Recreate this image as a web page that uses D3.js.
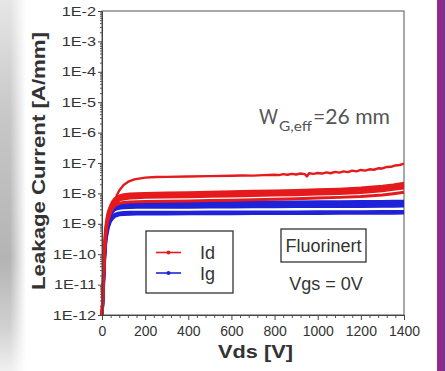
<!DOCTYPE html>
<meta charset="utf-8">
<style>
body { margin: 0; background: #fff; }
svg { display: block; }
.tick text { font-family: "Liberation Sans", Arial, sans-serif; fill: #333; }
.lbl { font-family: "Liberation Sans", Arial, sans-serif; fill: #333; }
</style>
<body>
<svg width="446" height="371"></svg>
</body>
<script src="https://d3js.org/d3.v7.min.js"></script>
<script>

// shared voltage grid for the smoother curves
var vds = [0, 4, 8, 12, 16, 20, 25, 30, 40, 50, 60, 80, 100, 130, 160, 200, 300, 400, 500, 600, 700, 800, 900, 1000, 1100, 1200, 1300, 1350, 1400];

// top (noisy) Id curve has its own grid
var idTopV = [0, 3, 6, 10, 15, 20, 30, 40, 50, 60, 70, 80, 100, 125, 150, 200, 250, 300, 400, 500, 600, 650, 700, 750,
  800, 820, 840, 860, 880, 900, 920, 940, 950, 960, 980, 1000, 1020, 1040, 1060, 1080, 1100, 1120,
  1140, 1160, 1180, 1200, 1220, 1240, 1260, 1280, 1300, 1320, 1340, 1360, 1380, 1400];
var idTop = [1e-12, 5e-12, 2e-11, 9e-11, 3e-10, 7e-10, 1.4e-9, 2.2e-9, 3.6e-9, 6e-9, 9e-9, 1.25e-8,
  1.9e-8, 2.5e-8, 2.9e-8, 3.3e-8, 3.45e-8, 3.5e-8, 3.6e-8, 3.7e-8, 3.8e-8, 3.9e-8, 3.85e-8, 4.0e-8,
  4.1e-8, 4.0e-8, 4.3e-8, 4.1e-8, 4.4e-8, 4.2e-8, 4.5e-8, 4.3e-8, 3.6e-8, 4.6e-8, 4.4e-8, 4.7e-8,
  4.5e-8, 4.9e-8, 4.6e-8, 5.1e-8, 4.8e-8, 5.3e-8, 5.0e-8, 5.6e-8, 5.3e-8, 5.9e-8, 5.6e-8, 6.2e-8,
  6.0e-8, 6.7e-8, 6.6e-8, 7.4e-8, 7.5e-8, 8.3e-8, 8.6e-8, 9.5e-8];

// lower Id curves (on vds grid)
var id2 = [1e-12, 6e-12, 4e-11, 2e-10, 6e-10, 1.1e-9, 1.8e-9, 2.6e-9, 4e-9, 5.5e-9, 6.8e-9, 8.2e-9, 9e-9, 9.5e-9, 9.8e-9,
  1.0e-8, 1.03e-8, 1.06e-8, 1.1e-8, 1.13e-8, 1.17e-8, 1.21e-8, 1.25e-8, 1.31e-8, 1.38e-8, 1.5e-8, 1.72e-8, 1.9e-8, 2.15e-8];
var id3 = [1e-12, 5e-12, 3e-11, 1.6e-10, 5e-10, 9e-10, 1.5e-9, 2.2e-9, 3.4e-9, 4.6e-9, 5.7e-9, 7e-9, 7.8e-9, 8.2e-9, 8.4e-9,
  8.6e-9, 8.9e-9, 9.2e-9, 9.4e-9, 9.7e-9, 1.0e-8, 1.03e-8, 1.07e-8, 1.12e-8, 1.18e-8, 1.28e-8, 1.45e-8, 1.62e-8, 1.8e-8];
var id4 = [1e-12, 4e-12, 2.5e-11, 1.3e-10, 4e-10, 7.5e-10, 1.3e-9, 1.9e-9, 2.9e-9, 3.9e-9, 4.8e-9, 6e-9, 6.6e-9, 7e-9, 7.2e-9,
  7.4e-9, 7.6e-9, 7.8e-9, 8e-9, 8.2e-9, 8.5e-9, 8.8e-9, 9.1e-9, 9.5e-9, 1.0e-8, 1.08e-8, 1.22e-8, 1.36e-8, 1.5e-8];
var id5 = [1e-12, 3e-12, 2e-11, 1e-10, 3.2e-10, 6e-10, 1.1e-9, 1.6e-9, 2.5e-9, 3.3e-9, 4e-9, 4.7e-9, 5e-9, 5.2e-9, 5.3e-9,
  5.4e-9, 5.5e-9, 5.6e-9, 5.8e-9, 6e-9, 6.2e-9, 6.4e-9, 6.7e-9, 7e-9, 7.4e-9, 7.9e-9, 8.8e-9, 9.8e-9, 1.1e-8];

// Ig curves (on vds grid)
var ig1 = [1e-12, 4e-12, 2e-11, 1e-10, 3e-10, 6e-10, 1e-9, 1.6e-9, 2.6e-9, 3.5e-9, 4.1e-9, 4.6e-9, 4.8e-9, 4.9e-9, 5e-9,
  5e-9, 5.05e-9, 5.1e-9, 5.1e-9, 5.15e-9, 5.2e-9, 5.25e-9, 5.3e-9, 5.35e-9, 5.4e-9, 5.45e-9, 5.5e-9, 5.55e-9, 5.6e-9];
var ig2 = [1e-12, 3.5e-12, 1.8e-11, 9e-11, 2.8e-10, 5.5e-10, 9e-10, 1.4e-9, 2.3e-9, 3.1e-9, 3.6e-9, 4.0e-9, 4.2e-9, 4.3e-9, 4.35e-9,
  4.4e-9, 4.45e-9, 4.5e-9, 4.5e-9, 4.55e-9, 4.6e-9, 4.6e-9, 4.65e-9, 4.7e-9, 4.75e-9, 4.8e-9, 4.85e-9, 4.9e-9, 4.95e-9];
var ig3 = [1e-12, 3e-12, 1.6e-11, 8e-11, 2.5e-10, 5e-10, 8e-10, 1.3e-9, 2.1e-9, 2.8e-9, 3.2e-9, 3.6e-9, 3.75e-9, 3.85e-9, 3.9e-9,
  3.9e-9, 3.95e-9, 4e-9, 4e-9, 4.05e-9, 4.05e-9, 4.1e-9, 4.1e-9, 4.15e-9, 4.2e-9, 4.2e-9, 4.25e-9, 4.3e-9, 4.3e-9];
var ig4 = [1e-12, 2.5e-12, 1.4e-11, 7e-11, 2.2e-10, 4.5e-10, 7e-10, 1.1e-9, 1.8e-9, 2.5e-9, 2.9e-9, 3.2e-9, 3.35e-9, 3.4e-9, 3.45e-9,
  3.45e-9, 3.5e-9, 3.5e-9, 3.55e-9, 3.55e-9, 3.6e-9, 3.6e-9, 3.65e-9, 3.65e-9, 3.7e-9, 3.7e-9, 3.75e-9, 3.75e-9, 3.8e-9];
var ig5 = [1e-12, 2.2e-12, 1.2e-11, 6e-11, 1.9e-10, 3.8e-10, 6e-10, 9e-10, 1.4e-9, 1.8e-9, 2.1e-9, 2.3e-9, 2.35e-9, 2.4e-9, 2.4e-9,
  2.4e-9, 2.42e-9, 2.43e-9, 2.44e-9, 2.45e-9, 2.46e-9, 2.47e-9, 2.48e-9, 2.5e-9, 2.5e-9, 2.52e-9, 2.54e-9, 2.55e-9, 2.56e-9];
var ig6 = [1e-12, 2e-12, 1e-11, 5e-11, 1.6e-10, 3.2e-10, 5e-10, 7.5e-10, 1.2e-9, 1.5e-9, 1.75e-9, 1.95e-9, 2.02e-9, 2.06e-9, 2.08e-9,
  2.1e-9, 2.1e-9, 2.12e-9, 2.13e-9, 2.14e-9, 2.15e-9, 2.16e-9, 2.17e-9, 2.18e-9, 2.19e-9, 2.2e-9, 2.21e-9, 2.22e-9, 2.23e-9];

var yTicks = [1e-12, 1e-11, 1e-10, 1e-9, 1e-8, 1e-7, 1e-6, 1e-5, 1e-4, 1e-3, 1e-2];
var yTickLabels = ["1E-12", "1E-11", "1E-10", "1E-9", "1E-8", "1E-7", "1E-6", "1E-5", "1E-4", "1E-3", "1E-2"];
var xTicks = [0, 200, 400, 600, 800, 1000, 1200, 1400];
var legendNames = ["Id", "Ig"];

var red = "#e41a1c", blue = "#1f22d8";

var svg = d3.select("svg");

// backdrop: grey band on the left, purple strip on the right
var defs = svg.append("defs");
var gv = defs.append("linearGradient").attr("id", "gv").attr("x1", 0).attr("y1", 0).attr("x2", 0).attr("y2", 1);
[["0%", "#e6e6e6"], ["30%", "#c8c8c8"], ["70%", "#b4b4b4"], ["88%", "#d0d0d0"], ["100%", "#f0f0f0"]].forEach(function(s) {
  gv.append("stop").attr("offset", s[0]).attr("stop-color", s[1]);
});
var gh = defs.append("linearGradient").attr("id", "gh");
gh.append("stop").attr("offset", "0%").attr("stop-color", "#fff").attr("stop-opacity", 0);
gh.append("stop").attr("offset", "100%").attr("stop-color", "#fff").attr("stop-opacity", 1);
svg.append("rect").attr("x", 0).attr("y", 0).attr("width", 26).attr("height", 371).attr("fill", "url(#gv)");
svg.append("rect").attr("x", 10).attr("y", 0).attr("width", 16).attr("height", 371).attr("fill", "url(#gh)");
svg.append("rect").attr("x", 437).attr("y", 0).attr("width", 8).attr("height", 371).attr("fill", "#8e2b8f");
svg.append("rect").attr("x", 445).attr("y", 0).attr("width", 1).attr("height", 371).attr("fill", "#dcc8dc");

var x = d3.scaleLinear().domain([0, 1400]).range([102, 404]);
var y = d3.scaleLog().domain([1e-12, 1e-2]).range([315, 11]);

// frame
svg.append("rect").attr("x", 102).attr("y", 11).attr("width", 302).attr("height", 304)
  .attr("fill", "#fff").attr("stroke", "#555").attr("stroke-width", 1);

var line = d3.line().x(function(d) { return x(d[0]); }).y(function(d) { return y(d[1]); });
function pairs(vs, is) { return vs.map(function(v, i) { return [v, is[i]]; }); }

var plot = svg.append("g");
[ig6, ig5, ig4, ig3, ig2, ig1].forEach(function(s) {
  plot.append("path").datum(pairs(vds, s)).attr("d", line)
    .attr("fill", "none").attr("stroke", blue).attr("stroke-width", 2.8).attr("stroke-linejoin", "round");
});
[id5, id4, id3, id2].forEach(function(s) {
  plot.append("path").datum(pairs(vds, s)).attr("d", line)
    .attr("fill", "none").attr("stroke", red).attr("stroke-width", 3).attr("stroke-linejoin", "round");
});
plot.append("path").datum(pairs(idTopV, idTop)).attr("d", line)
  .attr("fill", "none").attr("stroke", red).attr("stroke-width", 2.4).attr("stroke-linejoin", "round");

// y axis
var minorY = [];
yTicks.slice(0, -1).forEach(function(t) { for (var k = 2; k < 10; k++) minorY.push(t * k); });
svg.append("g").attr("transform", "translate(102,0)")
  .call(d3.axisLeft(y).tickValues(minorY).tickSize(2).tickFormat(""))
  .call(function(g) { g.select(".domain").remove(); g.selectAll("line").attr("stroke", "#555"); });
var gy = svg.append("g").attr("transform", "translate(102,0)")
  .call(d3.axisLeft(y).tickValues(yTicks).tickSize(4).tickSizeOuter(0)
    .tickFormat(function(d, i) { return yTickLabels[i]; }));
gy.select(".domain").attr("stroke", "#444");
gy.selectAll("line").attr("stroke", "#444");
gy.selectAll("text").attr("x", 0).attr("font-size", 12.5)
  .attr("transform", "translate(-6,0) scale(1.3,1)");

// x axis
var minorX = d3.range(0, 1401, 40).filter(function(v) { return v % 200 !== 0; });
svg.append("g").attr("transform", "translate(0,315)")
  .call(d3.axisBottom(x).tickValues(minorX).tickSize(3).tickFormat(""))
  .call(function(g) { g.select(".domain").remove(); g.selectAll("line").attr("stroke", "#555"); });
var gx = svg.append("g").attr("transform", "translate(0,315)")
  .call(d3.axisBottom(x).tickValues(xTicks).tickSize(5).tickSizeOuter(0).tickFormat(d3.format("d")));
gx.select(".domain").attr("stroke", "#444");
gx.selectAll("line").attr("stroke", "#444");
gx.selectAll("text").attr("font-size", 14).attr("y", 11);

// axis titles
svg.append("text").attr("class", "lbl")
  .attr("transform", "translate(45,161) rotate(-90)")
  .attr("text-anchor", "middle").attr("font-size", 18).attr("font-weight", "bold").attr("fill", "#222")
  .attr("textLength", 258).attr("lengthAdjust", "spacingAndGlyphs")
  .text("Leakage Current [A/mm]");
svg.append("text").attr("class", "lbl")
  .attr("x", 255.5).attr("y", 358)
  .attr("text-anchor", "middle").attr("font-size", 18).attr("font-weight", "bold").attr("fill", "#222")
  .attr("textLength", 75).attr("lengthAdjust", "spacingAndGlyphs")
  .text("Vds [V]");

// W_G,eff annotation
var ann = svg.append("g").attr("fill", "#555").attr("font-family", "Lato, 'Open Sans', sans-serif");
ann.append("text").attr("x", 259).attr("y", 124).attr("font-size", 22)
  .attr("textLength", 19).attr("lengthAdjust", "spacingAndGlyphs").text("W");
ann.append("text").attr("x", 279).attr("y", 131).attr("font-size", 14)
  .attr("textLength", 33).attr("lengthAdjust", "spacingAndGlyphs").text("G,eff");
ann.append("text").attr("x", 313).attr("y", 124).attr("font-size", 22)
  .attr("textLength", 77).attr("lengthAdjust", "spacingAndGlyphs").text("=26 mm");

// legend
var leg = svg.append("g");
leg.append("rect").attr("x", 146).attr("y", 231).attr("width", 87).attr("height", 62)
  .attr("fill", "#fff").attr("stroke", "#333").attr("stroke-width", 1.3);
[red, blue].forEach(function(c, i) {
  var ly = 252.5 + i * 20.5;
  leg.append("line").attr("x1", 156).attr("x2", 181).attr("y1", ly).attr("y2", ly)
    .attr("stroke", c).attr("stroke-width", 1.6);
  leg.append("circle").attr("cx", 168.5).attr("cy", ly).attr("r", 2).attr("fill", c);
  leg.append("text").attr("class", "lbl").attr("x", 200).attr("y", 258.5 + i * 21)
    .attr("font-size", 18).text(legendNames[i]);
});

// Fluorinert box and bias note
svg.append("rect").attr("x", 281).attr("y", 229).attr("width", 85).attr("height", 33)
  .attr("fill", "#fff").attr("stroke", "#333").attr("stroke-width", 1.3);
svg.append("text").attr("class", "lbl").attr("x", 323.5).attr("y", 252)
  .attr("text-anchor", "middle").attr("font-size", 18).text("Fluorinert");
svg.append("text").attr("class", "lbl").attr("x", 326).attr("y", 290)
  .attr("text-anchor", "middle").attr("font-size", 18).text("Vgs = 0V");

</script>
